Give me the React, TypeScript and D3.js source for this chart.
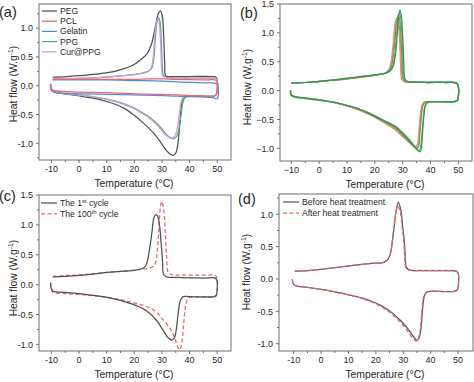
import React from 'react';
import * as d3 from 'd3';

type Pt = [number, number];

const FONT = "'Liberation Sans', Arial, Helvetica, sans-serif";

// ---------------- Panel (a) data ----------------
const namesA = ['PEG', 'PCL', 'Gelatin', 'PPG', 'Cur@PPG'];
const colorsA = ['#4f4f4f', '#ef6470', '#4d8fd6', '#5aa882', '#c99fd9'];

const pegA: Pt[] = [[-10.4,0.02],[-10.2,-0.05],[-9.5,-0.1],[-8,-0.12],[-4,-0.15],[1.6,-0.19],[7.6,-0.24],[13.6,-0.33],[17,-0.41],[19.6,-0.5],[23.3,-0.65],[26.9,-0.82],[29.5,-0.98],[31.5,-1.12],[33,-1.19],[34,-1.21],[35,-1.17],[35.8,-1.0],[36.4,-0.7],[37,-0.38],[37.7,-0.22],[38.8,-0.18],[45,-0.18],[48.8,-0.18],[49.7,-0.15],[50.1,-0.04],[50.0,0.1],[49.5,0.15],[48,0.16],[40,0.16],[33,0.16],[31.4,0.17],[31.0,0.4],[30.6,0.9],[30.1,1.22],[29.4,1.3],[28.6,1.24],[27.6,1.02],[26.2,0.72],[24.5,0.55],[22,0.44],[19.6,0.36],[13.6,0.26],[7.6,0.21],[1.6,0.18],[-4.5,0.16],[-9.5,0.15]];
const pclA: Pt[] = [[-10.3,0.04],[-10.1,-0.04],[-9.3,-0.08],[-5,-0.1],[0,-0.11],[10,-0.12],[20,-0.14],[30,-0.15],[40,-0.17],[48.5,-0.18],[49.6,-0.16],[50,-0.05],[49.9,0.07],[49.3,0.1],[45,0.1],[35,0.11],[30,0.12],[25,0.12],[20,0.11],[10,0.11],[0,0.11],[-9.5,0.11]];
const gelA: Pt[] = [[-10.3,0.03],[-10.1,-0.06],[-9.3,-0.11],[-5,-0.13],[0,-0.14],[10,-0.15],[20,-0.16],[30,-0.17],[40,-0.19],[47,-0.2],[48.8,-0.21],[49.6,-0.23],[50.3,-0.2],[50.4,-0.05],[50.2,0.02],[49.5,0.04],[47,0.05],[40,0.06],[30,0.08],[20,0.09],[10,0.1],[0,0.1],[-9.5,0.1]];
const ppgA: Pt[] = [[-10.3,0.02],[-10.1,-0.06],[-9.4,-0.1],[-8,-0.12],[-4,-0.14],[1.6,-0.17],[7.6,-0.21],[13.6,-0.27],[19.6,-0.38],[23.3,-0.48],[26.9,-0.6],[29.5,-0.72],[31.5,-0.84],[33,-0.9],[34.2,-0.92],[35.3,-0.88],[36.2,-0.74],[37,-0.48],[37.7,-0.27],[38.5,-0.2],[40,-0.18],[48.8,-0.18],[49.7,-0.15],[50.1,-0.04],[50,0.08],[49.5,0.12],[48,0.13],[40,0.13],[32,0.14],[30.6,0.17],[30.2,0.3],[29.8,0.75],[29.3,1.12],[28.8,1.18],[28.2,1.1],[27.6,0.8],[27.0,0.45],[26.3,0.3],[25,0.25],[22,0.21],[15,0.17],[7,0.14],[0,0.13],[-5,0.12],[-9.5,0.12]];
const curA: Pt[] = [[-10.3,0.02],[-10.1,-0.06],[-9.4,-0.1],[-8,-0.12],[-4,-0.14],[1.6,-0.17],[7.6,-0.21],[13.6,-0.28],[19.6,-0.39],[23.3,-0.49],[26.9,-0.62],[29.3,-0.74],[31.2,-0.85],[32.7,-0.9],[33.8,-0.91],[34.8,-0.86],[35.7,-0.7],[36.4,-0.45],[37.1,-0.26],[37.9,-0.2],[40,-0.18],[48.8,-0.18],[49.7,-0.15],[50.1,-0.04],[50,0.08],[49.5,0.12],[48,0.13],[40,0.13],[32,0.14],[30.3,0.17],[29.9,0.3],[29.5,0.75],[29.0,1.1],[28.5,1.16],[27.9,1.08],[27.3,0.78],[26.7,0.44],[26,0.3],[25,0.25],[22,0.21],[15,0.17],[7,0.14],[0,0.13],[-5,0.12],[-9.5,0.12]];

// ---------------- Panel (b) data ----------------
const colorsB = ['#b79a6a', '#e4907f', '#8b9440', '#48b8a6', '#3d9048'];
const b5: Pt[] = [[-10.3,0.01],[-10.1,-0.07],[-9.2,-0.1],[-5,-0.13],[0,-0.16],[5,-0.2],[9.5,-0.26],[14,-0.33],[17.9,-0.41],[22.7,-0.53],[27.3,-0.66],[29.8,-0.77],[32,-0.88],[33.8,-0.96],[34.8,-0.99],[35.5,-0.95],[36.0,-0.73],[36.5,-0.45],[37.1,-0.26],[37.9,-0.2],[40,-0.19],[48.5,-0.19],[49.6,-0.17],[50.1,-0.05],[49.9,0.09],[49.3,0.13],[45,0.14],[38,0.14],[32,0.15],[30.7,0.16],[30.0,0.2],[29.5,0.52],[29.0,0.98],[28.5,1.22],[28.0,1.27],[27.5,1.14],[26.9,0.85],[26.3,0.56],[25.5,0.39],[24.3,0.31],[22.7,0.29],[17.9,0.25],[13,0.22],[9.5,0.2],[5,0.18],[0,0.16],[-5,0.14],[-10,0.13]];
const b1: Pt[] = [[-10.3,0.01],[-10.1,-0.07],[-9.2,-0.1],[-5,-0.13],[0,-0.16],[5,-0.2],[9.5,-0.26],[14,-0.33],[17.9,-0.41],[22.7,-0.54],[27,-0.67],[29.5,-0.78],[31.8,-0.88],[33.6,-0.95],[34.6,-0.97],[35.3,-0.93],[35.8,-0.72],[36.3,-0.44],[36.9,-0.26],[37.7,-0.2],[40,-0.19],[48.5,-0.19],[49.6,-0.17],[50.1,-0.05],[49.9,0.09],[49.3,0.13],[45,0.14],[38,0.14],[32,0.15],[30.3,0.16],[29.6,0.2],[29.2,0.5],[28.8,0.95],[28.2,1.18],[27.6,1.22],[27.1,1.1],[26.6,0.82],[26.0,0.55],[25.2,0.38],[24,0.31],[22.7,0.29],[17.9,0.25],[13,0.22],[9.5,0.2],[5,0.18],[0,0.15],[-5,0.14],[-10,0.13]];
const b2: Pt[] = [[-10.3,0.0],[-10.1,-0.07],[-9.2,-0.1],[-5,-0.13],[0,-0.16],[5,-0.2],[9.5,-0.25],[14,-0.32],[17.9,-0.4],[22.7,-0.52],[27.5,-0.65],[30,-0.77],[32.2,-0.88],[34,-0.97],[35,-1.01],[35.7,-0.97],[36.2,-0.74],[36.7,-0.45],[37.3,-0.26],[38.1,-0.2],[40,-0.19],[48.5,-0.19],[49.6,-0.17],[50.1,-0.05],[49.9,0.09],[49.3,0.13],[45,0.14],[38,0.14],[32,0.15],[31,0.16],[30.3,0.2],[29.8,0.55],[29.3,1.0],[28.8,1.26],[28.3,1.3],[27.8,1.18],[27.2,0.88],[26.6,0.58],[25.8,0.4],[24.5,0.32],[22.7,0.29],[17.9,0.25],[13,0.22],[9.5,0.2],[5,0.18],[0,0.16],[-5,0.14],[-10,0.13]];
const b4: Pt[] = [[-10.3,0.0],[-10.1,-0.08],[-9.2,-0.11],[-5,-0.14],[0,-0.17],[5,-0.2],[9.5,-0.25],[14,-0.31],[17.9,-0.39],[22.7,-0.5],[27.5,-0.62],[30,-0.73],[32.4,-0.85],[34.3,-0.96],[35.4,-1.02],[36.0,-1.04],[36.5,-0.95],[37.0,-0.7],[37.5,-0.42],[38.1,-0.25],[39,-0.2],[41,-0.19],[48.5,-0.2],[49.6,-0.18],[50.1,-0.06],[49.9,0.09],[49.3,0.14],[45,0.15],[38,0.15],[33,0.15],[31.3,0.16],[30.5,0.2],[30.1,0.55],[29.7,1.0],[29.2,1.28],[28.7,1.34],[28.2,1.22],[27.7,0.92],[27.1,0.6],[26.3,0.41],[25,0.33],[22.7,0.29],[17.9,0.26],[13,0.23],[9.5,0.21],[5,0.18],[0,0.16],[-5,0.14],[-10,0.14]];
const b3: Pt[] = [[-10.3,0.0],[-10.1,-0.07],[-9.2,-0.1],[-5,-0.13],[0,-0.16],[5,-0.2],[9.5,-0.25],[14,-0.31],[17.9,-0.39],[22.7,-0.51],[27.5,-0.63],[29.9,-0.74],[32.3,-0.86],[34.3,-0.97],[35.5,-1.04],[36.2,-1.06],[36.7,-1.0],[37.1,-0.75],[37.6,-0.45],[38.2,-0.26],[39,-0.2],[41,-0.19],[48.5,-0.19],[49.6,-0.17],[50.1,-0.05],[49.9,0.09],[49.3,0.13],[45,0.14],[38,0.14],[33,0.15],[31.6,0.16],[30.8,0.2],[30.4,0.5],[30.0,0.95],[29.5,1.3],[29.0,1.4],[28.5,1.27],[28.0,0.95],[27.4,0.62],[26.6,0.42],[25.5,0.34],[24,0.3],[22.7,0.29],[17.9,0.26],[13,0.23],[9.5,0.21],[5,0.18],[0,0.16],[-5,0.14],[-10,0.13]];

// ---------------- Panel (c) data ----------------
const cycle1C: Pt[] = [[-10.3,0.03],[-10.1,-0.06],[-9.3,-0.11],[-5,-0.13],[1.6,-0.16],[11.2,-0.22],[19.6,-0.33],[24.5,-0.44],[28.1,-0.6],[30.5,-0.77],[32.3,-0.89],[33.5,-0.93],[34.4,-0.9],[35.2,-0.75],[35.9,-0.47],[36.7,-0.26],[37.7,-0.2],[40,-0.2],[48.6,-0.2],[49.6,-0.18],[50,-0.06],[49.9,0.07],[49.3,0.11],[45,0.11],[35,0.12],[31.7,0.13],[30.6,0.17],[30.2,0.4],[29.7,0.7],[29.1,1.0],[28.4,1.15],[27.7,1.17],[27.0,1.1],[26.4,0.88],[25.7,0.65],[25.0,0.45],[24.2,0.32],[23,0.27],[19.6,0.24],[11.2,0.21],[1.6,0.16],[-5,0.14],[-9.5,0.13]];
const cycle100C: Pt[] = [[-10.3,0.03],[-10.1,-0.07],[-9.3,-0.13],[-5,-0.15],[1.6,-0.17],[11.2,-0.22],[19.6,-0.3],[26.9,-0.42],[30.5,-0.59],[32.9,-0.73],[34.7,-0.9],[35.7,-1.04],[36.4,-1.09],[37.1,-1.0],[37.8,-0.7],[38.4,-0.4],[39.2,-0.25],[40.5,-0.21],[48.6,-0.21],[49.6,-0.19],[50.1,-0.06],[50,0.1],[49.4,0.15],[45,0.16],[36,0.16],[33.5,0.17],[32.3,0.2],[31.7,0.45],[31.2,0.85],[30.7,1.24],[29.9,1.39],[29.3,1.24],[28.8,0.85],[28.3,0.56],[27.8,0.38],[27,0.31],[24.5,0.27],[19.6,0.24],[11.2,0.21],[1.6,0.17],[-5,0.15],[-9.5,0.14]];

// ---------------- Panel (d) data ----------------
const namesD = ['Before heat treatment', 'After heat treatment'];
const beforeD: Pt[] = [[-10.5,0.0],[-10.2,-0.07],[-9.5,-0.1],[-5,-0.13],[0,-0.16],[9.7,-0.24],[18.2,-0.34],[24.3,-0.47],[29.2,-0.65],[32.2,-0.8],[34.1,-0.91],[35,-0.95],[35.8,-0.91],[36.5,-0.75],[37.1,-0.45],[37.8,-0.25],[38.7,-0.2],[40,-0.19],[48.7,-0.19],[49.7,-0.17],[50.2,-0.05],[50.1,0.08],[49.5,0.12],[45,0.13],[35,0.13],[32.2,0.14],[31.1,0.18],[30.8,0.3],[30.4,0.59],[29.8,0.8],[29.2,1.05],[28.2,1.19],[27.4,1.05],[26.8,0.85],[26.2,0.64],[25.6,0.45],[24.9,0.34],[23.1,0.26],[18.2,0.24],[9.7,0.2],[0,0.15],[-5,0.13],[-9.7,0.12]];
const afterD: Pt[] = [[-10.5,0.0],[-10.2,-0.07],[-9.5,-0.1],[-5,-0.13],[0,-0.16],[9.7,-0.24],[18.2,-0.35],[24.3,-0.49],[29.2,-0.68],[32.0,-0.83],[33.7,-0.93],[34.7,-0.96],[35.5,-0.92],[36.3,-0.75],[36.9,-0.45],[37.6,-0.25],[38.5,-0.2],[40,-0.19],[48.7,-0.19],[49.7,-0.17],[50.2,-0.05],[50.1,0.08],[49.5,0.12],[45,0.13],[35,0.13],[32.0,0.14],[30.9,0.18],[30.6,0.3],[30.2,0.58],[29.6,0.8],[29.0,1.02],[28.0,1.13],[27.2,1.0],[26.6,0.8],[26.0,0.58],[25.3,0.4],[24.4,0.3],[23.1,0.26],[18.2,0.24],[9.7,0.2],[0,0.15],[-5,0.13],[-9.7,0.12]];

// ---------------- ticks ----------------
const xTicks = [-10, 0, 10, 20, 30, 40, 50];
const xMinor = [-5, 5, 15, 25, 35, 45];
const yTicksA = [-1.0, -0.5, 0.0, 0.5, 1.0];
const yTicksB = [-1.0, -0.5, 0.0, 0.5, 1.0, 1.5];
const yTicksC = [-1.0, -0.5, 0.0, 0.5, 1.0, 1.5];
const yTicksD = [-1.0, -0.5, 0.0, 0.5, 1.0];
const yMinorAll = [-1.25, -0.75, -0.25, 0.25, 0.75, 1.25];

type S = { data: Pt[]; color: string; dash?: string };
type LegendItem = { text: React.ReactNode; color: string; dash?: string };

type PanelProps = {
  id: string;
  left: number; top: number; right: number; bottom: number;
  xDomain: [number, number]; yDomain: [number, number];
  yTicks: number[];
  series: S[];
  label: string; labelX: number; labelY: number;
  ytitleX: number; ytitleY: number; xtitleX: number;
  minus: string;
  legend?: { items: LegendItem[]; x1: number; x2: number; tx: number; y0: number; dy: number };
};

const AX = '#6e6e6e';
const TXT = '#262626';
const LW = 1.25;

function Panel(p: PanelProps) {
  const xs = d3.scaleLinear().domain(p.xDomain).range([p.left, p.right]);
  const ys = d3.scaleLinear().domain(p.yDomain).range([p.bottom, p.top]);
  const line = d3.line<Pt>().x(d => xs(d[0])).y(d => ys(d[1])).curve(d3.curveCatmullRom.alpha(0.5));
  const fy = (v: number) => (v < -1e-9 ? p.minus : '') + Math.abs(v).toFixed(1);
  const fx = (v: number) => (v < 0 ? p.minus : '') + Math.abs(v);
  const yMinor = yMinorAll.filter(v => v > p.yDomain[0] && v < p.yDomain[1]);
  return (
    <g>
      <defs>
        <clipPath id={'clip' + p.id}>
          <rect x={p.left} y={p.top} width={p.right - p.left} height={p.bottom - p.top} />
        </clipPath>
      </defs>
      <g clipPath={`url(#clip${p.id})`}>
        {p.series.map((s, i) => (
          <path key={i} d={line(s.data) || ''} fill="none" stroke={s.color} strokeWidth={LW}
            strokeDasharray={s.dash} strokeLinejoin="round" />
        ))}
      </g>
      <rect x={p.left} y={p.top} width={p.right - p.left} height={p.bottom - p.top} fill="none" stroke={AX} strokeWidth={1} />
      {xTicks.map(t => (
        <g key={'xt' + t}>
          <line x1={xs(t)} x2={xs(t)} y1={p.bottom} y2={p.bottom + 3} stroke={AX} />
          <text x={xs(t)} y={p.bottom + 12} textAnchor="middle" fontSize={9} fill={TXT} fontFamily={FONT}>{fx(t)}</text>
        </g>
      ))}
      {xMinor.map(t => (
        <line key={'xm' + t} x1={xs(t)} x2={xs(t)} y1={p.bottom} y2={p.bottom + 2} stroke={AX} />
      ))}
      {p.yTicks.map(t => (
        <g key={'yt' + t}>
          <line x1={p.left - 3} x2={p.left} y1={ys(t)} y2={ys(t)} stroke={AX} />
          <text x={p.left - 6} y={ys(t) + 3.2} textAnchor="end" fontSize={9} fill={TXT} fontFamily={FONT}>{fy(t)}</text>
        </g>
      ))}
      {yMinor.map(t => (
        <line key={'ym' + t} x1={p.left - 2} x2={p.left} y1={ys(t)} y2={ys(t)} stroke={AX} />
      ))}
      <text x={p.xtitleX} y={p.bottom + 27} textAnchor="middle" fontSize={10.3} fill={TXT} fontFamily={FONT}>Temperature (°C)</text>
      <text transform={`translate(${p.ytitleX},${p.ytitleY}) rotate(-90)`} textAnchor="middle" fontSize={10.3} fill={TXT} fontFamily={FONT}>
        Heat flow (W.g<tspan dy={-4} fontSize={7}>-1</tspan><tspan dy={4}>)</tspan>
      </text>
      <text x={p.labelX} y={p.labelY} fontSize={14.5} fill={TXT} fontFamily={FONT}>{p.label}</text>
      {p.legend && p.legend.items.map((it, i) => {
        const y = p.legend!.y0 + i * p.legend!.dy;
        return (
          <g key={'lg' + i}>
            <line x1={p.legend!.x1} x2={p.legend!.x2} y1={y} y2={y} stroke={it.color} strokeWidth={LW} strokeDasharray={it.dash} />
            <text x={p.legend!.tx} y={y + 3} fontSize={8.6} fill={TXT} fontFamily={FONT}>{it.text}</text>
          </g>
        );
      })}
    </g>
  );
}

export default function App() {
  const seriesA: S[] = [pegA, pclA, gelA, ppgA, curA].map((d, i) => ({ data: d, color: colorsA[i] }));
  const orderA = [0, 3, 4, 2, 1];
  const seriesB: S[] = [b5, b1, b2, b4, b3].map((d, i) => ({ data: d, color: colorsB[i] }));
  const redDash = '#e0676a';
  const sup = (base: string, s: string, rest: string) => (
    <>{base}<tspan dy={-3} fontSize={6}>{s}</tspan><tspan dy={3}>{rest}</tspan></>
  );
  return (
    <svg width={474} height={382} style={{ position: 'absolute', left: 0, top: 0, background: '#fff' }}>
      <rect x={0} y={0} width={474} height={382} fill="#fff" />
      <Panel id="a" left={39} top={4} right={231} bottom={160}
        xDomain={[-14.5, 55]} yDomain={[-1.29, 1.42]} yTicks={yTicksA}
        series={orderA.map(i => seriesA[i])}
        label="(a)" labelX={-1} labelY={17} ytitleX={17} ytitleY={84} xtitleX={134} minus="-"
        legend={{ items: namesA.map((n, i) => ({ text: n, color: colorsA[i] })), x1: 42, x2: 57, tx: 60, y0: 11, dy: 10.2 }} />
      <Panel id="b" left={280} top={4} right={472} bottom={161}
        xDomain={[-14.06, 54.9]} yDomain={[-1.22, 1.5]} yTicks={yTicksB}
        series={seriesB}
        label="(b)" labelX={240} labelY={18} ytitleX={251} ytitleY={87} xtitleX={385} minus={'\u2212'} />
      <Panel id="c" left={39} top={195} right={231} bottom={351}
        xDomain={[-14.5, 55]} yDomain={[-1.11, 1.5]} yTicks={yTicksC}
        series={[{ data: cycle100C, color: redDash, dash: '4,2.5' }, { data: cycle1C, color: '#4f4f4f' }]}
        label="(c)" labelX={-1} labelY={201} ytitleX={17} ytitleY={278} xtitleX={134} minus="-"
        legend={{ items: [
          { text: sup('The 1', 'st', ' cycle'), color: '#4f4f4f' },
          { text: sup('The 100', 'th', ' cycle'), color: redDash, dash: '4,2.5' },
        ], x1: 41, x2: 57, tx: 60, y0: 203, dy: 10.8 }} />
      <Panel id="d" left={279} top={194} right={473} bottom={351}
        xDomain={[-15.37, 55.48]} yDomain={[-1.113, 1.314]} yTicks={yTicksD}
        series={[{ data: beforeD, color: '#5a5560' }, { data: afterD, color: redDash, dash: '4,2.5' }]}
        label="(d)" labelX={238} labelY={204} ytitleX={250} ytitleY={272} xtitleX={385} minus="-"
        legend={{ items: namesD.map((n, i) => ({ text: n, color: i === 0 ? '#5a5560' : redDash, dash: i === 0 ? undefined : '4,2.5' })),
          x1: 283, x2: 299, tx: 302, y0: 202, dy: 11 }} />
    </svg>
  );
}
